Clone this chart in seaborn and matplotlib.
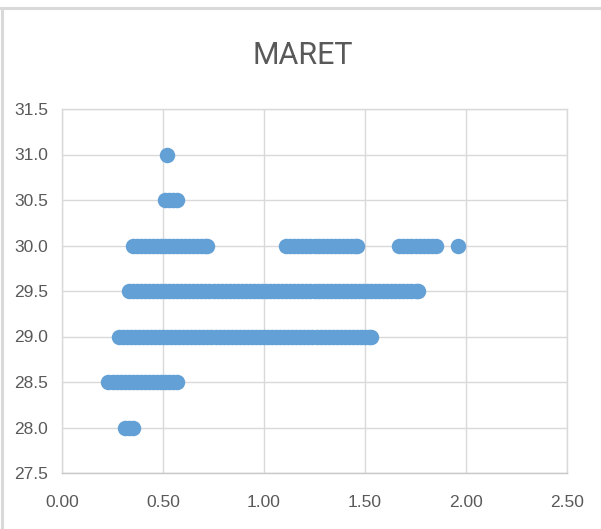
import matplotlib
matplotlib.use("Agg")
import matplotlib.pyplot as plt
from matplotlib.lines import Line2D
import seaborn as sns
import pandas as pd

# Temperature readings (y) against x for March, grouped by temperature level
x_31_0 = [0.52]
x_30_5 = [0.51, 0.53, 0.55, 0.57]
x_30_0 = [0.35, 0.37, 0.39, 0.41, 0.43, 0.45, 0.47, 0.49, 0.51, 0.53,
          0.55, 0.57, 0.59, 0.61, 0.63, 0.65, 0.67, 0.69, 0.71, 0.72,
          1.11, 1.13, 1.15, 1.17, 1.19, 1.21, 1.23, 1.25, 1.27, 1.29,
          1.31, 1.33, 1.35, 1.37, 1.39, 1.41, 1.43, 1.45, 1.46,
          1.67, 1.69, 1.71, 1.73, 1.75, 1.77, 1.79, 1.81, 1.83, 1.85,
          1.96]
x_29_5 = [0.33, 0.35, 0.37, 0.39, 0.41, 0.43, 0.45, 0.47, 0.49, 0.51,
          0.53, 0.55, 0.57, 0.59, 0.61, 0.63, 0.65, 0.67, 0.69, 0.71,
          0.73, 0.75, 0.77, 0.79, 0.81, 0.83, 0.85, 0.87, 0.89, 0.91,
          0.93, 0.95, 0.97, 0.99, 1.01, 1.03, 1.05, 1.07, 1.09, 1.11,
          1.13, 1.15, 1.17, 1.19, 1.21, 1.23, 1.25, 1.27, 1.29, 1.31,
          1.33, 1.35, 1.37, 1.39, 1.41, 1.43, 1.45, 1.47, 1.49, 1.51,
          1.53, 1.55, 1.57, 1.59, 1.61, 1.63, 1.65, 1.67, 1.69, 1.71,
          1.73, 1.75, 1.76]
x_29_0 = [0.28, 0.30, 0.32, 0.34, 0.36, 0.38, 0.40, 0.42, 0.44, 0.46,
          0.48, 0.50, 0.52, 0.54, 0.56, 0.58, 0.60, 0.62, 0.64, 0.66,
          0.68, 0.70, 0.72, 0.74, 0.76, 0.78, 0.80, 0.82, 0.84, 0.86,
          0.88, 0.90, 0.92, 0.94, 0.96, 0.98, 1.00, 1.02, 1.04, 1.06,
          1.08, 1.10, 1.12, 1.14, 1.16, 1.18, 1.20, 1.22, 1.24, 1.26,
          1.28, 1.30, 1.32, 1.34, 1.36, 1.38, 1.40, 1.42, 1.44, 1.46,
          1.48, 1.50, 1.52, 1.53]
x_28_5 = [0.23, 0.25, 0.27, 0.29, 0.31, 0.33, 0.35, 0.37, 0.39, 0.41,
          0.43, 0.45, 0.47, 0.49, 0.51, 0.53, 0.55, 0.57]
x_28_0 = [0.31, 0.33, 0.35]

levels = [31.0, 30.5, 30.0, 29.5, 29.0, 28.5, 28.0]
groups = [x_31_0, x_30_5, x_30_0, x_29_5, x_29_0, x_28_5, x_28_0]

x_ticks = [0.00, 0.50, 1.00, 1.50, 2.00, 2.50]
y_ticks = [27.5, 28.0, 28.5, 29.0, 29.5, 30.0, 30.5, 31.0, 31.5]
title = "MARET"

rows = []
for lvl, xs in zip(levels, groups):
    for v in xs:
        rows.append({"x": v, "y": lvl})
df = pd.DataFrame(rows)

sns.set_theme(style="white")
plt.rcParams["font.family"] = ["Liberation Sans", "DejaVu Sans"]

text_col = "#595959"
grid_col = "#D9D9D9"

fig = plt.figure(figsize=(6.01, 5.29), dpi=100)
ax = fig.add_axes([62 / 601, 1 - 473 / 529, 505 / 601, 364 / 529])

sns.scatterplot(data=df, x="x", y="y", ax=ax, s=124, color="#63A0D6",
                linewidth=0, alpha=1, zorder=3, legend=False)

ax.set_xlim(0, 2.5)
ax.set_ylim(27.5, 31.5)
ax.set_xticks(x_ticks)
ax.set_xticklabels([f"{t:.2f}" for t in x_ticks])
ax.set_yticks(y_ticks)
ax.set_yticklabels([f"{t:.1f}" for t in y_ticks])
ax.set_xlabel("")
ax.set_ylabel("")
ax.grid(True, color=grid_col, linewidth=1)
ax.set_axisbelow(True)
for sp in ax.spines.values():
    sp.set_visible(True)
    sp.set_color(grid_col)
    sp.set_linewidth(1)
ax.spines["bottom"].set_color("#C8C8C8")
ax.tick_params(axis="both", length=0, labelsize=12.5, labelcolor=text_col)
ax.tick_params(axis="x", pad=16)
ax.tick_params(axis="y", pad=10)

fig.text(303 / 601, 1 - 55 / 529, title, ha="center", va="center",
         fontsize=22, color=text_col, fontweight="normal",
         family=["Roboto", "Liberation Sans", "DejaVu Sans"])

# chart frame edges
fig.add_artist(Line2D([0, 1], [1 - 8 / 529] * 2, color="#D9D9D9", linewidth=2.2,
                      transform=fig.transFigure))
fig.add_artist(Line2D([1.5 / 601] * 2, [0, 1 - 8 / 529], color="#D9D9D9",
                      linewidth=2.2, transform=fig.transFigure))

fig.savefig("out.png", dpi=100)
